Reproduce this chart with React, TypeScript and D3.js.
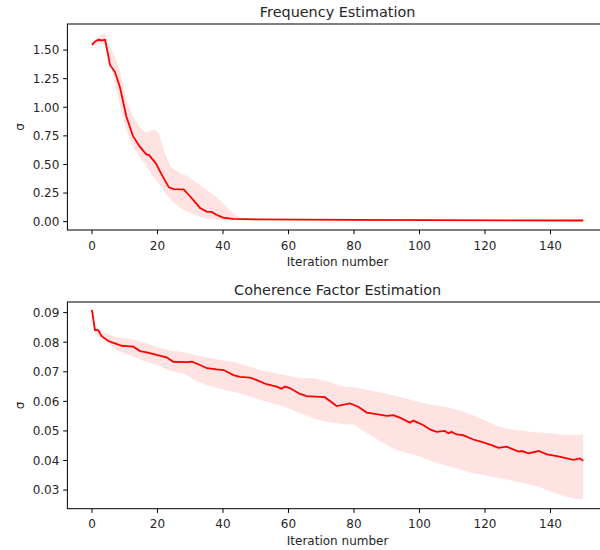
import React from "react";
import * as d3 from "d3";

// ---- Top chart: Frequency Estimation ----
const topMeanIter = [0, 1, 2, 3, 4, 5, 5.5, 7, 8.5, 10.5, 12.5, 14.5, 16.5, 17.5, 19.5, 21.5, 23.5, 25, 28, 30, 33, 35, 36.5, 38, 40, 43, 50, 80, 150];
const topMean = [1.545, 1.575, 1.59, 1.585, 1.59, 1.45, 1.37, 1.31, 1.18, 0.92, 0.75, 0.66, 0.59, 0.58, 0.51, 0.4, 0.3, 0.285, 0.283, 0.22, 0.12, 0.088, 0.085, 0.06, 0.035, 0.025, 0.02, 0.015, 0.01];
const topBandIter = [0, 2, 4, 5.5, 7, 8.5, 10.5, 12.5, 14.5, 16.5, 19, 20.5, 22, 24, 27, 29, 33, 36, 39, 42, 45, 50, 60, 150];
const topUpper = [1.57, 1.62, 1.645, 1.53, 1.44, 1.33, 1.07, 0.92, 0.83, 0.78, 0.81, 0.77, 0.62, 0.48, 0.42, 0.4, 0.32, 0.26, 0.19, 0.1, 0.035, 0.025, 0.02, 0.012];
const topLower = [1.53, 1.56, 1.55, 1.38, 1.22, 1.02, 0.8, 0.66, 0.57, 0.49, 0.38, 0.33, 0.27, 0.19, 0.12, 0.09, 0.04, 0.02, 0.015, 0.012, 0.012, 0.01, 0.01, 0.004];
const topYTicks = [0, 0.25, 0.5, 0.75, 1.0, 1.25, 1.5];

// ---- Bottom chart: Coherence Factor Estimation ----
const botMeanIter = [0, 0.9, 1.9, 2.9, 3.9, 5, 7, 9.1, 10.6, 12.6, 14.7, 16.7, 19.7, 22.8, 24.8, 28.9, 30.5, 33, 35.1, 38.1, 40.2, 43.2, 45.2, 48.3, 50.3, 53.3, 56.4, 57.9, 58.9, 60.4, 63.5, 64.5, 65.5, 68.1, 71.1, 74.7, 78.8, 81.3, 83.9, 86.9, 90, 92, 94, 97.1, 98.1, 101.1, 103.2, 105.2, 107.7, 108.8, 109.8, 111.3, 113.3, 116.4, 119.5, 122, 124.1, 126.6, 130.2, 131.2, 133.3, 136.4, 138.9, 142, 145, 147, 149, 150];
const botMean = [0.0909, 0.0841, 0.0841, 0.0821, 0.0813, 0.0804, 0.0796, 0.0788, 0.0787, 0.0785, 0.077, 0.0766, 0.0757, 0.0749, 0.0734, 0.0733, 0.0734, 0.0723, 0.0712, 0.0708, 0.0706, 0.0689, 0.0683, 0.068, 0.0672, 0.0658, 0.065, 0.0643, 0.065, 0.0645, 0.0625, 0.0622, 0.0618, 0.0616, 0.0614, 0.0584, 0.0593, 0.0582, 0.0562, 0.0557, 0.0551, 0.0553, 0.0545, 0.0528, 0.0535, 0.052, 0.0505, 0.0497, 0.05, 0.0492, 0.0497, 0.0488, 0.0486, 0.0471, 0.0461, 0.0452, 0.0443, 0.0447, 0.043, 0.0432, 0.0424, 0.0432, 0.0421, 0.0415, 0.0407, 0.0402, 0.0407, 0.0399];
const botBandIter = [0, 1, 3, 5, 8, 12, 16, 20, 24, 28, 32, 36, 40, 44, 48, 52, 56, 60, 64, 68, 72, 76, 80, 84, 88, 92, 96, 100, 104, 108, 112, 116, 120, 124, 128, 132, 136, 140, 144, 148, 150];
const botUpper = [0.0909, 0.0853, 0.0838, 0.0826, 0.0816, 0.0811, 0.0798, 0.0784, 0.0772, 0.0767, 0.0755, 0.0747, 0.0738, 0.0732, 0.0718, 0.0704, 0.0696, 0.0687, 0.0678, 0.0678, 0.0668, 0.0652, 0.0648, 0.0639, 0.063, 0.062, 0.061, 0.0597, 0.0588, 0.0582, 0.057, 0.0555, 0.0535, 0.0516, 0.0506, 0.05, 0.0495, 0.0492, 0.0487, 0.0487, 0.0488];
const botLower = [0.0909, 0.0828, 0.0812, 0.0795, 0.077, 0.0753, 0.0736, 0.0722, 0.0703, 0.0694, 0.0668, 0.0652, 0.064, 0.063, 0.0617, 0.0603, 0.059, 0.0577, 0.0558, 0.054, 0.053, 0.0524, 0.0521, 0.0492, 0.0465, 0.044, 0.0425, 0.0414, 0.0397, 0.0383, 0.037, 0.0358, 0.035, 0.0341, 0.0332, 0.0322, 0.0313, 0.0294, 0.028, 0.027, 0.0268];
const botYTicks = [0.03, 0.04, 0.05, 0.06, 0.07, 0.08, 0.09];

const xTicks = [0, 20, 40, 60, 80, 100, 120, 140];

const FONT = "'DejaVu Sans', sans-serif";
const TXT = "#262626";

type PanelProps = {
  top: number;
  bottom: number;
  yDomain: [number, number];
  yTicks: number[];
  yFmt: (v: number) => string;
  title: string;
  meanIter: number[];
  mean: number[];
  bandIter: number[];
  upper: number[];
  lower: number[];
};

const LEFT = 67.4;
const RIGHT = 607.8;

function Panel(p: PanelProps) {
  const x = d3.scaleLinear().domain([-7.5, 157.5]).range([LEFT, RIGHT]);
  const y = d3.scaleLinear().domain(p.yDomain).range([p.bottom, p.top]);
  const area = d3
    .area<number>()
    .x((_, i) => x(p.bandIter[i]))
    .y0((_, i) => y(p.lower[i]))
    .y1((_, i) => y(p.upper[i]));
  const line = d3
    .line<number>()
    .x((_, i) => x(p.meanIter[i]))
    .y((d) => y(d));
  const midX = (LEFT + RIGHT) / 2;
  const midY = (p.top + p.bottom) / 2;
  return (
    <g>
      <path d={area(p.upper) || ""} fill="#ff0000" fillOpacity={0.11} stroke="none" />
      <path d={line(p.mean) || ""} fill="none" stroke="#ff0000" strokeWidth={1.8} />
      <rect x={LEFT} y={p.top} width={RIGHT - LEFT} height={p.bottom - p.top} fill="none" stroke="#000" strokeWidth={1} />
      {xTicks.map((t) => (
        <g key={"x" + t}>
          <line x1={x(t)} x2={x(t)} y1={p.bottom} y2={p.bottom + 4.2} stroke="#000" strokeWidth={1} />
          <text x={x(t)} y={p.bottom + 19.5} textAnchor="middle" fontSize={12} fontFamily={FONT} fill={TXT}>
            {t}
          </text>
        </g>
      ))}
      {p.yTicks.map((t) => (
        <g key={"y" + t}>
          <line x1={LEFT - 4.2} x2={LEFT} y1={y(t)} y2={y(t)} stroke="#000" strokeWidth={1} />
          <text x={LEFT - 8} y={y(t) + 4.3} textAnchor="end" fontSize={12} fontFamily={FONT} fill={TXT}>
            {p.yFmt(t)}
          </text>
        </g>
      ))}
      <text x={midX} y={p.top - 7} textAnchor="middle" fontSize={14.4} fontFamily={FONT} fill={TXT}>
        {p.title}
      </text>
      <text x={midX} y={p.bottom + 36.3} textAnchor="middle" fontSize={12} fontFamily={FONT} fill={TXT}>
        Iteration number
      </text>
      <text transform={`translate(${23.5},${midY}) rotate(-90)`} textAnchor="middle" fontSize={12} fontFamily={FONT} fill={TXT}>
        σ
      </text>
    </g>
  );
}

export default function App() {
  return (
    <svg width={600} height={550} style={{ position: "absolute", left: 0, top: 0, background: "#fff" }}>
      <rect x={0} y={0} width={600} height={550} fill="#fff" />
      <Panel
        top={24}
        bottom={230}
        yDomain={[-0.073, 1.728]}
        yTicks={topYTicks}
        yFmt={d3.format(".2f")}
        title="Frequency Estimation"
        meanIter={topMeanIter}
        mean={topMean}
        bandIter={topBandIter}
        upper={topUpper}
        lower={topLower}
      />
      <Panel
        top={302}
        bottom={508.7}
        yDomain={[0.0237, 0.0936]}
        yTicks={botYTicks}
        yFmt={d3.format(".2f")}
        title="Coherence Factor Estimation"
        meanIter={botMeanIter}
        mean={botMean}
        bandIter={botBandIter}
        upper={botUpper}
        lower={botLower}
      />
    </svg>
  );
}
